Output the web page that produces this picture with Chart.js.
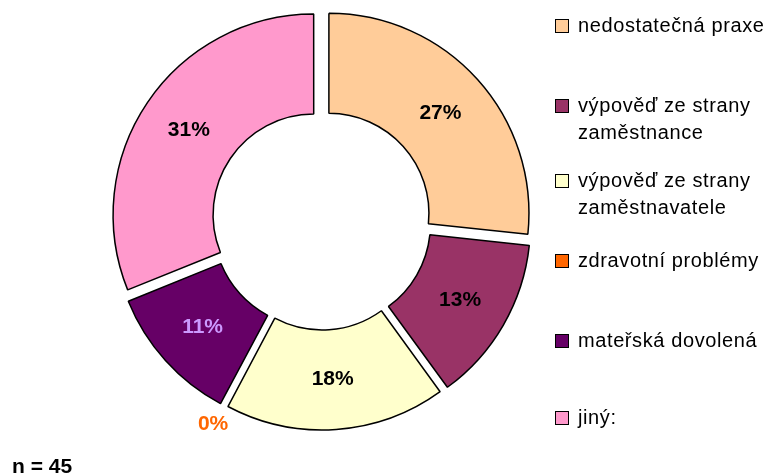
<!DOCTYPE html>
<html lang="cs">
<head>
<meta charset="utf-8">
<title>Důvody odchodu</title>
<script src="https://cdn.jsdelivr.net/npm/chart.js@4.4.0/dist/chart.umd.min.js"></script>
<style>
  html, body { margin: 0; padding: 0; background: #fff; }
  #wrap { position: relative; width: 775px; height: 476px; overflow: hidden; font-family: "Liberation Sans", Arial, sans-serif; }
  #chart { position: absolute; left: 0; top: 0; }
  .leg-item { position: absolute; left: 555px; width: 220px; height: 60px; }
  .leg-box { position: absolute; left: 0; top: 7px; width: 12px; height: 12px; border: 1px solid #000; }
  .leg-text { position: absolute; left: 23px; top: 0; width: 197px; font-size: 20px; line-height: 27px; letter-spacing: 0.6px; color: #000; }
  #n { position: absolute; left: 12px; top: 456px; font-size: 21px; font-weight: bold; line-height: 20px; color: #000; }
</style>
</head>
<body>
<div id="wrap">
  <canvas id="chart" width="775" height="476"></canvas>
  <div id="legend"></div>
  <div id="n"></div>
</div>
<script>
// data
const labels = [
    'nedostatečná praxe',
    'výpověď ze strany zaměstnance',
    'výpověď ze strany zaměstnavatele',
    'zdravotní problémy',
    'mateřská dovolená',
    'jiný:'
];
const counts = [12, 6, 8, 0, 5, 14];
const colors = ['#FFCC99', '#993366', '#FFFFCC', '#FF6600', '#660066', '#FF99CC'];
const labelColors = ['#000000', '#000000', '#000000', '#FF6600', '#CC99FF', '#000000'];

const total = counts.reduce((a, b) => a + b, 0);

// legend on the right, built by hand
const legendTops = [12, 92, 167, 247, 327, 404];
const legendEl = document.getElementById('legend');
labels.forEach((lab, i) => {
    const item = document.createElement('div');
    item.className = 'leg-item';
    item.style.top = legendTops[i] + 'px';
    item.innerHTML = '<div class="leg-box" style="background:' + colors[i] + '"></div>' +
        '<div class="leg-text">' + lab + '</div>';
    legendEl.appendChild(item);
});
document.getElementById('n').textContent = 'n = ' + total;

// percentage labels inside slices
const percentLabels = {
    id: 'percentLabels',
    afterDatasetsDraw(chart) {
        const ctx = chart.ctx;
        const meta = chart.getDatasetMeta(0);
        ctx.save();
        ctx.font = 'bold 21px "Liberation Sans", Arial, sans-serif';
        ctx.textAlign = 'center';
        ctx.textBaseline = 'middle';
        meta.data.forEach((arc, i) => {
            const p = arc.getProps(['x', 'y', 'startAngle', 'endAngle', 'innerRadius', 'outerRadius']);
            const mid = (p.startAngle + p.endAngle) / 2;
            const r = counts[i] === 0 ? p.outerRadius + 31 : (p.innerRadius + p.outerRadius) / 2 + 10;
            const pct = Math.round(counts[i] / total * 100);
            ctx.fillStyle = labelColors[i];
            ctx.fillText(pct + '%', p.x + Math.cos(mid) * r, p.y + Math.sin(mid) * r);
        });
        ctx.restore();
    }
};

new Chart(document.getElementById('chart'), {
    type: 'doughnut',
    data: {
        labels: labels,
        datasets: [{
            data: counts,
            backgroundColor: colors,
            borderColor: '#000000',
            borderWidth: 1.5,
            // exploded slices, about 10px each
            offset: (c) => {
                const circ = c.dataset.data[c.dataIndex] / total * 2 * Math.PI;
                const fix = 1 - Math.sin(Math.min(Math.PI, circ));
                return 40 / (1 + fix);
            },
            hoverOffset: 0
        }]
    },
    options: {
        responsive: false,
        animation: false,
        radius: 200,
        cutout: '50%',
        layout: { padding: { left: 100, right: 232, top: 0, bottom: 36 } },
        plugins: {
            legend: { display: false },
            tooltip: { enabled: false }
        }
    },
    plugins: [percentLabels]
});
</script>
</body>
</html>
